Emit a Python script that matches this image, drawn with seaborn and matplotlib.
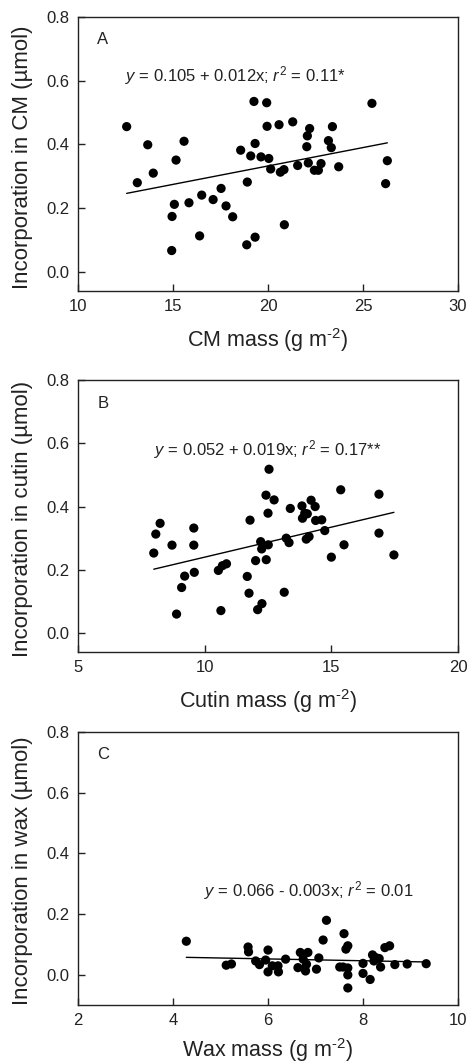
# Incorporation vs cuticle component mass - three panel scatter with fits
import numpy as np
import pandas as pd
import matplotlib
matplotlib.use("Agg")
import matplotlib.pyplot as plt
import seaborn as sns

# Panel A: CM mass vs incorporation in CM
cm_mass = [12.56, 13.12, 13.67, 13.96, 14.93, 14.95, 15.07, 15.16, 15.58, 15.84,
           16.40, 16.51, 17.11, 17.53, 17.79, 18.14, 18.56, 18.88, 18.91, 19.09,
           19.26, 19.32, 19.32, 19.63, 19.93, 19.95, 20.04, 20.14, 20.58, 20.65,
           20.84, 20.86, 21.30, 21.56, 22.04, 22.07, 22.19, 22.12, 22.44, 22.65,
           22.79, 23.18, 23.33, 23.39, 23.72, 25.47, 26.19, 26.28]
cm_inc = [0.456, 0.280, 0.399, 0.310, 0.067, 0.174, 0.212, 0.351, 0.410, 0.217,
          0.113, 0.241, 0.227, 0.262, 0.207, 0.173, 0.382, 0.085, 0.282, 0.364,
          0.535, 0.403, 0.109, 0.361, 0.531, 0.457, 0.356, 0.323, 0.462, 0.313,
          0.321, 0.148, 0.471, 0.334, 0.393, 0.427, 0.450, 0.342, 0.319, 0.319,
          0.340, 0.412, 0.390, 0.456, 0.330, 0.529, 0.277, 0.349]

# Panel B: cutin mass vs incorporation in cutin
cutin_mass = [7.99, 8.07, 8.24, 8.71, 8.89, 9.09, 9.21, 9.57, 9.57, 9.59,
              10.54, 10.64, 10.70, 10.86, 11.68, 11.75, 11.79, 12.01, 12.09, 12.21,
              12.25, 12.26, 12.42, 12.43, 12.50, 12.51, 12.54, 12.74, 13.14, 13.22,
              13.33, 13.38, 13.84, 13.86, 13.95, 14.01, 14.05, 14.12, 14.20, 14.36,
              14.38, 14.62, 14.74, 15.00, 15.37, 15.50, 16.88, 16.88, 17.47]
cutin_inc = [0.253, 0.313, 0.347, 0.278, 0.060, 0.144, 0.180, 0.332, 0.278, 0.192,
             0.198, 0.071, 0.213, 0.219, 0.179, 0.126, 0.357, 0.229, 0.074, 0.289,
             0.266, 0.093, 0.436, 0.232, 0.379, 0.279, 0.518, 0.421, 0.129, 0.300,
             0.286, 0.394, 0.402, 0.363, 0.379, 0.297, 0.377, 0.305, 0.420, 0.400,
             0.356, 0.358, 0.324, 0.240, 0.453, 0.279, 0.439, 0.316, 0.247]

# Panel C: wax mass vs incorporation in wax
wax_mass = [4.28, 5.12, 5.23, 5.58, 5.59, 5.74, 5.82, 5.95, 6.00, 6.00,
            6.09, 6.21, 6.22, 6.37, 6.63, 6.68, 6.74, 6.77, 6.79, 6.81,
            6.84, 7.02, 7.07, 7.16, 7.23, 7.51, 7.58, 7.60, 7.64, 7.68,
            7.68, 7.68, 7.68, 8.00, 8.00, 8.15, 8.20, 8.23, 8.27, 8.34,
            8.37, 8.46, 8.56, 8.67, 8.93, 9.33]
wax_inc = [0.110, 0.031, 0.035, 0.091, 0.075, 0.045, 0.033, 0.048, 0.081, 0.009,
           0.029, 0.029, 0.009, 0.051, 0.023, 0.073, 0.051, 0.020, 0.012, 0.034,
           0.073, 0.018, 0.055, 0.114, 0.179, 0.025, 0.025, 0.135, 0.084, 0.095,
           0.022, -0.001, -0.044, 0.037, 0.004, -0.016, 0.065, 0.045, 0.056, 0.053,
           0.025, 0.089, 0.095, 0.033, 0.035, 0.036]

sns.set_style("ticks")
plt.rcParams['font.family'] = ['Liberation Sans', 'DejaVu Sans']
plt.rcParams['mathtext.fontset'] = 'custom'
plt.rcParams['mathtext.rm'] = 'Liberation Sans'
plt.rcParams['mathtext.it'] = 'Liberation Sans:italic'
plt.rcParams['axes.edgecolor'] = '#222222'
plt.rcParams['xtick.direction'] = 'in'
plt.rcParams['ytick.direction'] = 'in'

fig = plt.figure(figsize=(4.7, 10.64), dpi=100)

panels = [
    dict(x=cm_mass, y=cm_inc, rect=[0.166, 0.7265, 0.8085, 0.2575],
         xlim=(10, 30), xticks=[10, 15, 20, 25, 30], ylim=(-0.06, 0.8),
         xlabel='CM mass (g m$^{\\text{-2}}$)', ylabel='Incorporation in CM (µmol)',
         xlab_y=-0.128, letter='A', letter_pos=(11.3, 0.73),
         eq='$\\it{y}$ = 0.105 + 0.012x; $\\it{r}^2$ = 0.11*', eq_pos=(18.26, 0.617)),
    dict(x=cutin_mass, y=cutin_inc, rect=[0.166, 0.3872, 0.8085, 0.2556],
         xlim=(5, 20), xticks=[5, 10, 15, 20], ylim=(-0.06, 0.8),
         xlabel='Cutin mass (g m$^{\\text{-2}}$)', ylabel='Incorporation in cutin (µmol)',
         xlab_y=-0.128, letter='B', letter_pos=(6.0, 0.727),
         eq='$\\it{y}$ = 0.052 + 0.019x; $\\it{r}^2$ = 0.17**', eq_pos=(12.5, 0.58)),
    dict(x=wax_mass, y=wax_inc, rect=[0.166, 0.0555, 0.8085, 0.2566],
         xlim=(2, 10), xticks=[2, 4, 6, 8, 10], ylim=(-0.1, 0.8),
         xlabel='Wax mass (g m$^{\\text{-2}}$)', ylabel='Incorporation in wax (µmol)',
         xlab_y=-0.115, letter='C', letter_pos=(2.53, 0.727),
         eq='$\\it{y}$ = 0.066 - 0.003x; $\\it{r}^2$ = 0.01', eq_pos=(6.86, 0.277)),
]

for p in panels:
    ax = fig.add_axes(p['rect'])
    df = pd.DataFrame({'mass': p['x'], 'inc': p['y']})
    sns.regplot(data=df, x='mass', y='inc', ax=ax, ci=None, truncate=True,
                scatter_kws=dict(s=44, color='black', edgecolor='none', alpha=1),
                line_kws=dict(color='black', lw=1.0))
    ax.set_xlim(p['xlim'])
    ax.set_ylim(p['ylim'])
    ax.set_xticks(p['xticks'])
    ax.set_yticks([0.0, 0.2, 0.4, 0.6, 0.8])
    ax.set_yticklabels(['0.0', '0.2', '0.4', '0.6', '0.8'])
    ax.tick_params(labelsize=12, length=5, width=1.0, color='#222222', pad=6,
                   top=False, right=False, labelcolor='#222222')
    for s in ax.spines.values():
        s.set_linewidth(1.0)
        s.set_visible(True)
    ax.set_xlabel(p['xlabel'], fontsize=15.5, color='#222222')
    ax.set_ylabel(p['ylabel'], fontsize=16, color='#222222')
    ax.xaxis.set_label_coords(0.5, p['xlab_y'])
    ax.yaxis.set_label_coords(-0.118, 0.49)
    ax.text(*p['letter_pos'], p['letter'], fontsize=12, ha='center', va='center',
            color='#222222')
    ax.text(*p['eq_pos'], p['eq'], fontsize=12, ha='center', va='center',
            color='#222222')

fig.savefig('out.png', dpi=100)
